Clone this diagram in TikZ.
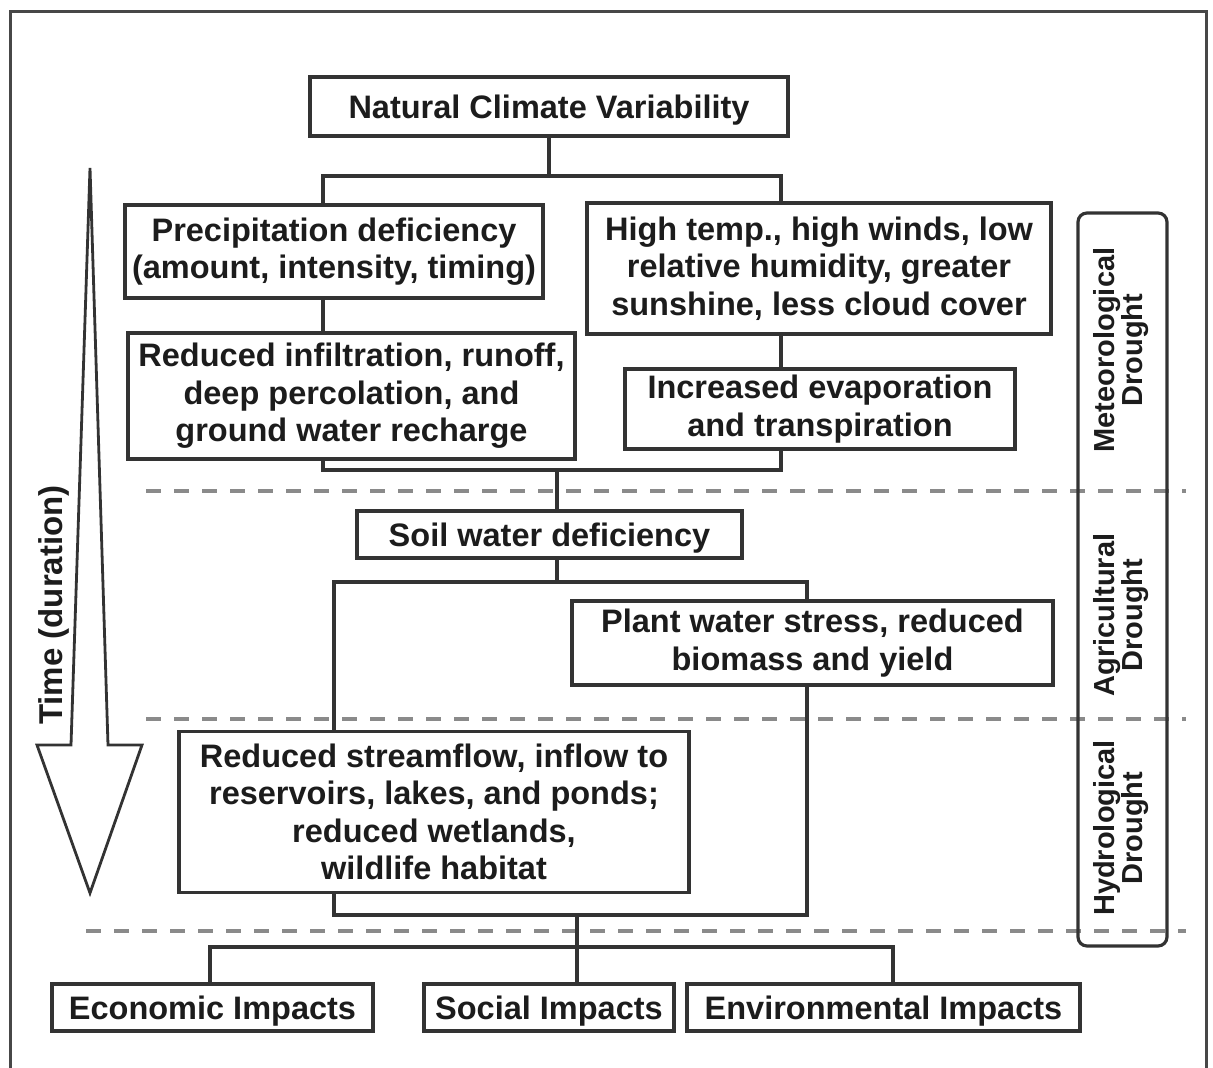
\documentclass[tikz,border=0pt]{standalone}
\usepackage{fontspec}
\setmainfont{Liberation Sans}
\definecolor{linec}{HTML}{333333}
\definecolor{textc}{HTML}{1C1C1C}
\definecolor{dashc}{HTML}{8A8A8A}
\newcommand\bxfont{\fontsize{32.5}{37.5}\selectfont\bfseries}
\newcommand\sidefont{\fontsize{29}{27.5}\selectfont\bfseries}
\begin{document}
\begin{tikzpicture}[x=1pt,y=-1pt,
  box/.style={draw=linec, line width=3.2pt, fill=white, align=center, inner sep=0pt, text=textc, font=\bxfont},
  oneline/.style={text height=23.3pt, text depth=0pt},
  conn/.style={draw=linec, line width=3.2pt},
  dashln/.style={draw=dashc, line width=3.4pt, dash pattern=on 15pt off 13pt},
  sidelab/.style={rotate=90, align=center, inner sep=0pt, text=textc, font=\sidefont},
  frameln/.style={draw=linec!90, line width=3pt}]
\useasboundingbox (0,0) rectangle (1213,1068);
% outer frame
\draw[frameln] (10.5,1080) -- (10.5,11) -- (1206,11) -- (1206,1080);
% dashed separators
\draw[dashln] (146,491) -- (1186,491);
\draw[dashln] (146,719) -- (1186,719);
\draw[dashln] (86,931) -- (1186,931);
% time arrow
\draw[draw=linec, line width=2.8pt, line join=miter] (90,168) -- (108,745) -- (142,745) -- (90,893) -- (37,745) -- (71,745) -- cycle;
\node[sidelab, font=\fontsize{33}{33}\selectfont\bfseries] (time) at (54,605) {Time (duration)};
% drought bar
\draw[draw=linec, line width=3.2pt, rounded corners=9pt] (1078,213) rectangle (1167,946);
\node[sidelab] (met) at (1121,350) {Meteorological\\Drought};
\node[sidelab] (agr) at (1121,615) {Agricultural\\Drought};
\node[sidelab] (hyd) at (1121,828) {Hydrological\\Drought};
% junction coordinates
\coordinate (t1) at (323,176);
\coordinate (t2) at (781,176);
\coordinate (t3) at (323,470);
\coordinate (t4) at (781,470);
\coordinate (t5) at (557,470);
\coordinate (t6) at (557,582);
\coordinate (u1) at (334,582);
\coordinate (u2) at (807,582);
\coordinate (u3) at (334,915);
\coordinate (u4) at (807,915);
\coordinate (u5) at (577,915);
\coordinate (v1) at (210,947);
\coordinate (v2) at (893,947);
% nodes
\node[box, oneline, minimum width=478pt, minimum height=59pt] (nat) at (549,106.5) {Natural Climate Variability};
\node[box, minimum width=418pt, minimum height=93pt] (pre) at (334,251.5) {Precipitation deficiency\\(amount, intensity, timing)};
\node[box, minimum width=464pt, minimum height=131pt] (hot) at (819,268.5) {High temp., high winds, low\\relative humidity, greater\\sunshine, less cloud cover};
\node[box, minimum width=447pt, minimum height=126pt] (inf) at (351.5,396) {Reduced infiltration, runoff,\\deep percolation, and\\ground water recharge};
\node[box, minimum width=390pt, minimum height=80pt] (eva) at (820,409) {Increased evaporation\\and transpiration};
\node[box, oneline, minimum width=385pt, minimum height=47pt] (soil) at (549.5,534.5) {Soil water deficiency};
\node[box, minimum width=481pt, minimum height=84pt] (plant) at (812.5,643) {Plant water stress, reduced\\biomass and yield};
\node[box, minimum width=510pt, minimum height=161pt] (stream) at (434,812) {Reduced streamflow, inflow to\\reservoirs, lakes, and ponds;\\reduced wetlands,\\wildlife habitat};
\node[box, oneline, minimum width=321pt, minimum height=47pt] (eco) at (212.5,1007.5) {Economic Impacts};
\node[box, oneline, minimum width=250pt, minimum height=47pt] (soc) at (549,1007.5) {Social Impacts};
\node[box, oneline, minimum width=393pt, minimum height=47pt] (env) at (883.5,1007.5) {Environmental Impacts};
% connectors
\draw[conn] (nat.south) -- (nat.south |- t1);
\draw[conn] (pre.north -| t1) -- (t1) -- (t2) -- (hot.north -| t2);
\draw[conn] (pre.south -| t1) -- (inf.north -| t1);
\draw[conn] (hot.south -| t2) -- (eva.north -| t2);
\draw[conn] (inf.south -| t3) -- (t3) -- (t4) -- (eva.south -| t4);
\draw[conn] (t5) -- (soil.north -| t5);
\draw[conn] (soil.south -| t6) -- (t6);
\draw[conn] (stream.north -| u1) -- (u1) -- (u2) -- (plant.north -| u2);
\draw[conn] (stream.south -| u3) -- (u3) -- (u4) -- (plant.south -| u4);
\draw[conn] (u5) -- (soc.north -| u5);
\draw[conn] (eco.north -| v1) -- (v1) -- (v2) -- (env.north -| v2);
\end{tikzpicture}
\end{document}
